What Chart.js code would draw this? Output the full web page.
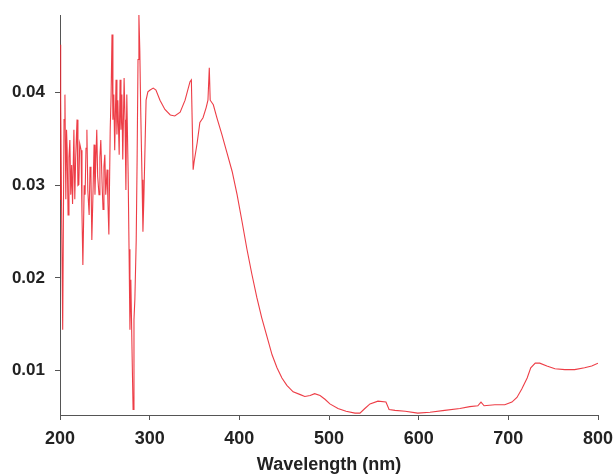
<!DOCTYPE html>
<html>
<head>
<meta charset="utf-8">
<script src="https://cdn.jsdelivr.net/npm/chart.js@4/dist/chart.umd.min.js"></script>
<style>
html,body{margin:0;padding:0;background:#fff;}
#wrap{width:613px;height:476px;position:relative;}
</style>
</head>
<body>
<div id="wrap"><canvas id="c" width="613" height="476"></canvas></div>
<script>
const wavelength = [200,200.5,201,202,203,204.5,205.5,206.5,207.3,208,209,210,211,212,213,214,215.5,216.5,217.5,219,220,221,222,223.5,224.5,225.5,227,228,229,230,231,232.5,233.5,234.5,235.5,237,238,239,240,241,242,243.5,244.5,245.5,247,248,249,250,251,252.5,253.5,254.5,256,257,258,259,260,261,262.5,263.5,264.5,266,267,268,269,270,271.5,272.5,273.5,274.5,276,277,278,279,280.5,281.5,282.5,283.5,285,286,287,288,289,290,291.5,292.5,293.5,295,296,298,300.5,304,307,311.5,317,323,328,334,339.5,345,346.5,348.5,349.5,353,356,359.5,363,365,366.5,367.5,371,375,380.5,386,392,397.5,403,408.5,414,419.5,425,431,436.5,442,447.5,453,460,468,473,479,484,490,495.5,501,510,519,529,534.5,540,545.7,554.6,563.5,567,573.6,585,599,612.6,629,646,657,666,669.5,673,685,696,704,709.6,715,721,725,730,735,743,752,763,774,785,793,800];
const absorbance = [0.0285,0.0452,0.0392,0.0252,0.0144,0.0371,0.0398,0.0285,0.0360,0.0338,0.0268,0.0330,0.0349,0.0290,0.0322,0.0280,0.0360,0.0285,0.0330,0.0371,0.0300,0.0301,0.0345,0.0338,0.0270,0.0214,0.0300,0.0290,0.0340,0.0360,0.0295,0.0268,0.0320,0.0312,0.0241,0.0300,0.0344,0.0290,0.0328,0.0360,0.0310,0.0290,0.0330,0.0349,0.0300,0.0274,0.0320,0.0333,0.0290,0.0317,0.0280,0.0247,0.0360,0.0398,0.0463,0.0371,0.0398,0.0338,0.0414,0.0355,0.0392,0.0333,0.0414,0.0360,0.0398,0.0328,0.0416,0.0371,0.0295,0.0398,0.0312,0.0231,0.0144,0.0198,0.0112,0.0058,0.0155,0.0177,0.0241,0.0328,0.0436,0.0484,0.0446,0.0382,0.0306,0.0250,0.0285,0.0349,0.0392,0.0401,0.0403,0.0405,0.0403,0.0392,0.0382,0.0376,0.0375,0.0379,0.0392,0.0412,0.0414,0.0317,0.0325,0.0346,0.0368,0.0373,0.0384,0.0392,0.0427,0.0392,0.0387,0.0373,0.0355,0.0336,0.0315,0.0290,0.0261,0.0231,0.0204,0.0179,0.0157,0.0136,0.0117,0.0103,0.0092,0.0084,0.0077,0.0074,0.0072,0.0073,0.0075,0.0073,0.0069,0.0064,0.0059,0.0056,0.0054,0.0054,0.0059,0.0064,0.0067,0.0066,0.0058,0.0057,0.0056,0.0054,0.0055,0.0057,0.0059,0.0061,0.0062,0.0066,0.0062,0.0063,0.0063,0.0066,0.0071,0.0080,0.0092,0.0103,0.0108,0.0108,0.0105,0.0102,0.0101,0.0101,0.0103,0.0105,0.0108];
const xTicks = [200,300,400,500,600,700,800];
const yTicks = [0.01,0.02,0.03,0.04];
const xTitle = 'Wavelength (nm)';

const pts = wavelength.map((w,i)=>({x:w,y:absorbance[i]}));
const family = '"Liberation Sans", Arial, sans-serif';

new Chart(document.getElementById('c'), {
  type:'line',
  data:{datasets:[{data:pts, borderColor:'rgba(235,40,50,0.9)', borderWidth:1.1, pointRadius:0, tension:0, fill:false}]},
  options:{
    responsive:false, animation:false, devicePixelRatio:1,
    layout:{padding:{top:15,right:15,left:0,bottom:0}},
    plugins:{legend:{display:false}, tooltip:{enabled:false}},
    scales:{
      x:{type:'linear', min:200, max:800,
        afterBuildTicks:s=>{s.ticks = xTicks.map(v=>({value:v}));},
        afterFit:s=>{s.height = 61; s.paddingLeft = 0; s.paddingRight = 0;},
        grid:{drawOnChartArea:false, drawTicks:true, tickLength:5, color:'#555'},
        border:{display:true, color:'#555', width:1},
        ticks:{font:{family:family, weight:'bold', size:18}, color:'#222', padding:8, maxRotation:0, callback:v=>String(v)},
        title:{display:true, text:xTitle, font:{family:family, weight:'bold', size:18}, color:'#222', padding:{top:0,bottom:0}}
      },
      y:{type:'linear', min:0.0052, max:0.0484,
        afterBuildTicks:s=>{s.ticks = yTicks.map(v=>({value:v}));},
        afterFit:s=>{s.width = 60; s.paddingTop = 0; s.paddingBottom = 0;},
        grid:{drawOnChartArea:false, drawTicks:true, tickLength:5, color:'#555'},
        border:{display:true, color:'#555', width:1},
        ticks:{font:{family:family, weight:'bold', size:17}, color:'#222', padding:10, callback:v=>v.toFixed(2)}
      }
    }
  }
});
</script>
</body>
</html>
